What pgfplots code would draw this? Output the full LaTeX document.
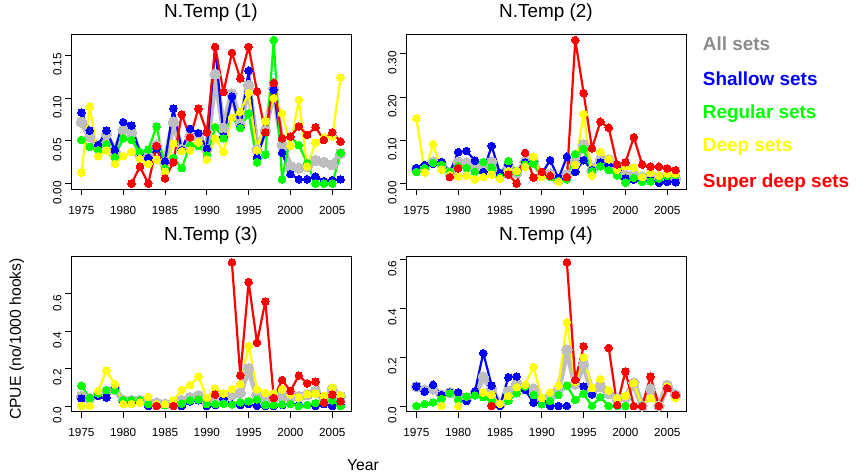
\documentclass[border=0pt]{standalone}
\usepackage{pgfplots}
\pgfplotsset{compat=1.18}
\usepackage{pgfplotstable}
\usepackage{fontspec}
\setmainfont{Liberation Sans}

\definecolor{cgray}{HTML}{BEBEBE}
\definecolor{cblue}{HTML}{0000FF}
\definecolor{cgreen}{HTML}{00FF00}
\definecolor{cyellow}{HTML}{FFFF00}
\definecolor{cred}{HTML}{FF0000}
\definecolor{legray}{HTML}{8C8C8C}

\pgfplotstableread{
year all sha reg deep sdeep
1975 0.072 0.083 0.051 0.013 nan
1976 0.055 0.062 0.043 0.090 nan
1977 0.042 0.045 0.039 0.032 nan
1978 0.058 0.062 0.046 0.039 nan
1979 0.037 0.039 0.031 0.023 nan
1980 0.063 0.072 0.053 0.032 nan
1981 0.060 0.068 0.051 0.037 0.000
1982 0.034 0.036 0.037 0.029 0.020
1983 0.032 0.030 0.040 0.023 0.000
1984 0.045 0.041 0.067 0.028 0.044
1985 0.025 0.026 0.018 0.014 0.006
1986 0.072 0.088 0.030 0.047 0.025
1987 0.040 0.039 0.018 0.038 0.081
1988 0.055 0.064 0.045 0.039 0.054
1989 0.055 0.059 0.044 0.048 0.088
1990 0.040 0.041 0.033 0.028 0.060
1991 0.128 0.160 0.066 0.053 0.160
1992 0.065 0.055 0.053 0.037 0.107
1993 0.105 0.102 0.077 0.077 0.153
1994 0.070 0.066 0.065 0.084 0.123
1995 0.115 0.132 0.082 0.106 0.160
1996 0.040 0.031 0.025 0.039 0.108
1997 0.062 0.060 0.034 0.073 0.060
1998 0.112 0.110 0.168 0.100 0.118
1999 0.045 0.036 0.005 0.082 0.053
2000 0.020 0.011 0.055 0.044 0.055
2001 0.018 0.005 0.045 0.098 0.067
2002 0.020 0.005 0.024 0.020 0.057
2003 0.027 0.008 0.000 0.048 0.066
2004 0.025 0.003 0.000 0.054 0.051
2005 0.022 0.004 0.000 0.055 0.060
2006 0.035 0.005 0.036 0.124 0.049
}\tabA

\pgfplotstableread{
year all sha reg deep sdeep
1975 0.033 0.036 0.027 0.151 nan
1976 0.038 0.043 0.036 0.026 nan
1977 0.050 0.046 0.048 0.091 nan
1978 0.045 0.050 0.043 0.032 nan
1979 0.025 0.025 0.027 0.020 0.015
1980 0.050 0.073 0.040 0.017 0.035
1981 0.048 0.075 0.036 0.018 nan
1982 0.040 0.053 0.027 0.010 nan
1983 0.040 0.027 0.050 0.015 nan
1984 0.050 0.087 0.037 0.021 nan
1985 0.020 0.023 0.015 0.011 nan
1986 0.042 0.045 0.052 0.029 0.021
1987 0.025 0.027 0.027 0.029 0.000
1988 0.050 0.049 0.044 0.039 0.071
1989 0.052 0.052 0.046 0.062 0.014
1990 0.020 0.023 0.015 0.015 0.027
1991 0.022 0.054 0.015 0.020 0.018
1992 0.008 0.012 0.006 0.004 nan
1993 0.020 0.062 0.010 0.015 0.015
1994 0.050 0.027 0.068 0.043 0.332
1995 0.090 0.054 0.080 0.161 0.209
1996 0.030 0.031 0.029 0.018 0.081
1997 0.055 0.049 0.040 0.073 0.143
1998 0.055 0.043 0.031 0.056 0.129
1999 0.040 0.043 0.019 0.032 0.044
2000 0.020 0.012 0.002 0.040 0.049
2001 0.020 0.009 0.013 0.037 0.107
2002 0.015 0.005 0.004 0.015 0.044
2003 0.015 0.008 0.005 0.025 0.039
2004 0.015 0.002 0.012 0.018 0.039
2005 0.015 0.004 0.018 0.023 0.035
2006 0.012 0.003 0.020 0.023 0.031
}\tabB

\pgfplotstableread{
year all sha reg deep sdeep
1975 0.050 0.040 0.108 0.000 nan
1976 0.040 0.043 0.043 0.000 nan
1977 0.060 0.054 0.067 0.080 nan
1978 0.075 0.045 0.085 0.190 nan
1979 0.090 0.094 0.085 0.116 nan
1980 0.030 0.025 0.031 0.010 nan
1981 0.030 0.020 0.031 0.010 nan
1982 0.030 0.020 0.031 0.018 nan
1983 0.020 0.000 0.010 0.049 nan
1984 0.015 0.010 0.007 0.010 0.000
1985 0.010 0.005 0.005 0.010 nan
1986 0.015 0.000 0.005 0.030 0.000
1987 0.030 0.000 0.013 0.085 nan
1988 0.045 0.025 0.030 0.112 nan
1989 0.055 0.030 0.035 0.157 nan
1990 0.020 0.000 0.010 0.043 nan
1991 0.035 0.005 0.010 0.094 0.061
1992 0.040 0.040 0.012 0.067 nan
1993 0.060 0.010 0.008 0.090 0.768
1994 0.070 0.005 0.020 0.117 0.163
1995 0.200 0.010 0.025 0.320 0.663
1996 0.060 0.000 0.035 0.089 0.338
1997 0.040 0.000 0.005 0.070 0.560
1998 0.040 0.000 0.005 0.067 0.043
1999 0.050 0.005 0.008 0.089 0.139
2000 0.050 0.010 0.010 0.061 0.080
2001 0.050 0.005 0.000 0.045 0.163
2002 0.060 0.005 0.005 0.063 0.121
2003 0.080 0.000 0.015 0.067 0.130
2004 0.030 0.010 0.020 0.054 0.018
2005 0.090 0.000 0.030 0.098 0.061
2006 0.050 0.005 0.000 0.058 0.025
}\tabC

\pgfplotstableread{
year all sha reg deep sdeep
1975 0.080 0.080 0.000 nan nan
1976 0.065 0.059 0.008 nan nan
1977 0.070 0.087 0.014 nan nan
1978 0.045 0.045 0.029 0.000 nan
1979 0.055 0.055 0.052 nan nan
1980 0.050 0.056 0.025 0.000 nan
1981 0.030 0.021 0.039 nan nan
1982 0.050 0.059 0.043 nan nan
1983 0.120 0.217 0.036 0.055 nan
1984 0.070 0.084 0.025 0.045 0.000
1985 0.005 0.000 0.008 0.008 nan
1986 0.060 0.118 0.021 0.041 nan
1987 0.090 0.121 0.052 0.077 nan
1988 0.080 0.066 0.080 0.087 nan
1989 0.070 0.014 0.045 0.160 nan
1990 0.025 0.020 0.007 0.032 nan
1991 0.040 0.000 0.021 0.055 nan
1992 0.070 0.000 0.045 0.083 nan
1993 0.230 0.000 0.084 0.344 0.589
1994 0.090 nan 0.025 0.100 0.107
1995 0.170 0.080 0.050 0.200 0.245
1996 0.060 0.048 0.000 0.073 nan
1997 0.080 nan 0.036 0.110 nan
1998 0.050 nan 0.000 0.063 0.238
1999 0.030 nan 0.000 0.032 0.004
2000 0.035 nan 0.000 0.041 0.142
2001 0.095 nan nan 0.094 0.000
2002 0.000 nan nan 0.000 0.000
2003 0.070 nan nan 0.032 0.121
2004 0.000 nan nan 0.000 0.000
2005 0.085 nan nan 0.080 0.073
2006 0.045 nan nan 0.032 0.045
}\tabD

\pgfplotsset{
  panel/.style={
    scale only axis, width=280bp, height=155bp,
    xmin=1973.76, xmax=2007.24,
    axis line style={line width=0.8bp},
    every tick/.style={line width=0.8bp, black},
    tick align=outside, tick pos=left,
    major tick length=6bp,
    xtick={1975,1980,1985,1990,1995,2000,2005},
    xticklabels={1975,1980,1985,1990,1995,2000,2005},
    xticklabel style={font=\fontsize{11.8}{13}\selectfont, yshift=-7bp},
    yticklabel style={font=\fontsize{11.8}{13}\selectfont, rotate=90, anchor=south, xshift=-9bp},
    unbounded coords=jump,
    title style={font=\fontsize{19}{21}\selectfont, at={(0.5,1)}, anchor=base, yshift=10.7bp},
  },
  sall/.style={color=cgray, line width=6bp, line join=round, mark=*, mark size=5.2bp, mark options={solid, fill=cgray, draw=cgray, line width=0bp}},
  sser/.style={color=#1, line width=2.2bp, line join=round, mark=*, mark size=3.8bp, mark options={solid, fill=#1, draw=#1, line width=0bp}},
}

\newcommand{\series}[1]{%
  \addplot[sall] table[x=year,y=all]{#1};
  \addplot[sser=cblue] table[x=year,y=sha]{#1};
  \addplot[sser=cgreen] table[x=year,y=reg]{#1};
  \addplot[sser=cyellow] table[x=year,y=deep]{#1};
  \addplot[sser=cred] table[x=year,y=sdeep]{#1};
}

\begin{document}
\begin{tikzpicture}
\path[use as bounding box] (0,0) rectangle (857bp,-476bp);

\begin{axis}[panel, at={(71bp,-34.3bp)}, anchor=north west,
  title={N.Temp (1)},
  ymin=-0.0067, ymax=0.1747,
  ytick={0,0.05,0.10,0.15}, yticklabels={0.00,0.05,0.10,0.15}]
\series{\tabA}
\end{axis}

\begin{axis}[panel, at={(406bp,-34.3bp)}, anchor=north west,
  title={N.Temp (2)},
  ymin=-0.01328, ymax=0.34528,
  ytick={0,0.10,0.20,0.30}, yticklabels={0.00,0.10,0.20,0.30}]
\series{\tabB}
\end{axis}

\begin{axis}[panel, at={(71bp,-256.7bp)}, anchor=north west,
  title={N.Temp (3)},
  ymin=-0.03072, ymax=0.79872,
  ytick={0,0.2,0.4,0.6}, yticklabels={0.0,0.2,0.4,0.6}]
\series{\tabC}
\end{axis}

\begin{axis}[panel, at={(406bp,-256.7bp)}, anchor=north west,
  title={N.Temp (4)},
  ymin=-0.02356, ymax=0.61256,
  ytick={0,0.2,0.4,0.6}, yticklabels={0.0,0.2,0.4,0.6}]
\series{\tabD}
\end{axis}

\node[rotate=90, font=\fontsize{15.8}{17}\selectfont] at (16.7bp,-339bp) {CPUE (no/1000 hooks)};
\node[font=\fontsize{15.8}{17}\selectfont] at (363bp,-465bp) {Year};

\begin{scope}[every node/.style={anchor=west, font=\fontsize{19}{21}\selectfont\bfseries, inner sep=0pt}]
\node[text=legray]  at (702.7bp,-44bp)    {All sets};
\node[text=cblue]   at (702.7bp,-78.3bp)  {Shallow sets};
\node[text=cgreen]  at (702.7bp,-113.3bp) {Regular sets};
\node[text=cyellow] at (702.7bp,-147.3bp) {Deep sets};
\node[text=cred]    at (702.7bp,-182.7bp) {Super deep sets};
\end{scope}
\end{tikzpicture}
\end{document}
